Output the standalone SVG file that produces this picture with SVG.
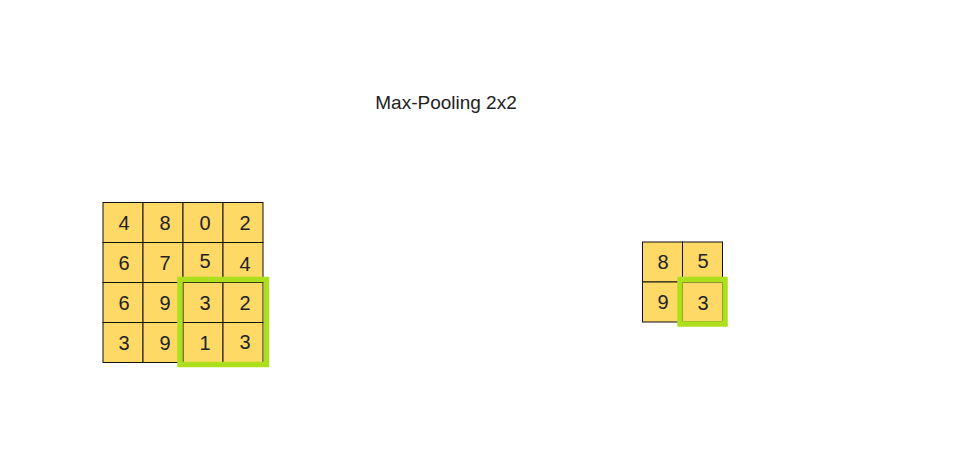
<svg xmlns="http://www.w3.org/2000/svg" width="979" height="469" viewBox="0 0 979 469">
<style>
.cell{fill:#FFD966;stroke:#111;stroke-width:1}
.num{font-family:"Liberation Sans",Arial,sans-serif;font-size:20px;fill:#222;text-anchor:middle}
.hl{fill:none;stroke:#AEDF1C;stroke-width:5.5}
.title{font-family:"Liberation Sans",Arial,sans-serif;font-size:19px;fill:#222;text-anchor:middle}
</style>
<rect width="979" height="469" fill="#fff"/>
<text class="title" x="446" y="108.5">Max-Pooling 2x2</text>
<g id="input">
<rect class="cell" x="103" y="202.5" width="40" height="40"/>
<rect class="cell" x="143" y="202.5" width="40" height="40"/>
<rect class="cell" x="183" y="202.5" width="40" height="40"/>
<rect class="cell" x="223" y="202.5" width="40" height="40"/>
<rect class="cell" x="103" y="242.5" width="40" height="40"/>
<rect class="cell" x="143" y="242.5" width="40" height="40"/>
<rect class="cell" x="183" y="242.5" width="40" height="40"/>
<rect class="cell" x="223" y="242.5" width="40" height="40"/>
<rect class="cell" x="103" y="282.5" width="40" height="40"/>
<rect class="cell" x="143" y="282.5" width="40" height="40"/>
<rect class="cell" x="183" y="282.5" width="40" height="40"/>
<rect class="cell" x="223" y="282.5" width="40" height="40"/>
<rect class="cell" x="103" y="322.5" width="40" height="40"/>
<rect class="cell" x="143" y="322.5" width="40" height="40"/>
<rect class="cell" x="183" y="322.5" width="40" height="40"/>
<rect class="cell" x="223" y="322.5" width="40" height="40"/>
<text class="num" x="124" y="229.5">4</text>
<text class="num" x="165" y="229.5">8</text>
<text class="num" x="205" y="229.5">0</text>
<text class="num" x="245" y="229.5">2</text>
<text class="num" x="124" y="270">6</text>
<text class="num" x="165" y="270">7</text>
<text class="num" x="205" y="268">5</text>
<text class="num" x="245" y="271">4</text>
<text class="num" x="124" y="309.5">6</text>
<text class="num" x="165" y="309.5">9</text>
<text class="num" x="205" y="309.5">3</text>
<text class="num" x="245" y="310">2</text>
<text class="num" x="124" y="349.5">3</text>
<text class="num" x="165" y="349.5">9</text>
<text class="num" x="205" y="350">1</text>
<text class="num" x="245" y="349">3</text>
<rect class="hl" x="180" y="279.5" width="86.5" height="85"/>
</g>
<g id="output">
<rect class="cell" x="642.5" y="242" width="40" height="40"/>
<rect class="cell" x="682.5" y="242" width="40" height="40"/>
<rect class="cell" x="642.5" y="282" width="40" height="40"/>
<rect class="cell" x="682.5" y="282" width="40" height="40"/>
<text class="num" x="663" y="269">8</text>
<text class="num" x="703" y="268">5</text>
<text class="num" x="663" y="308.5">9</text>
<text class="num" x="703" y="309.5">3</text>
<rect class="hl" x="680" y="279.5" width="45" height="44.5"/>
</g>
<g id="connectors"></g>
</svg>
